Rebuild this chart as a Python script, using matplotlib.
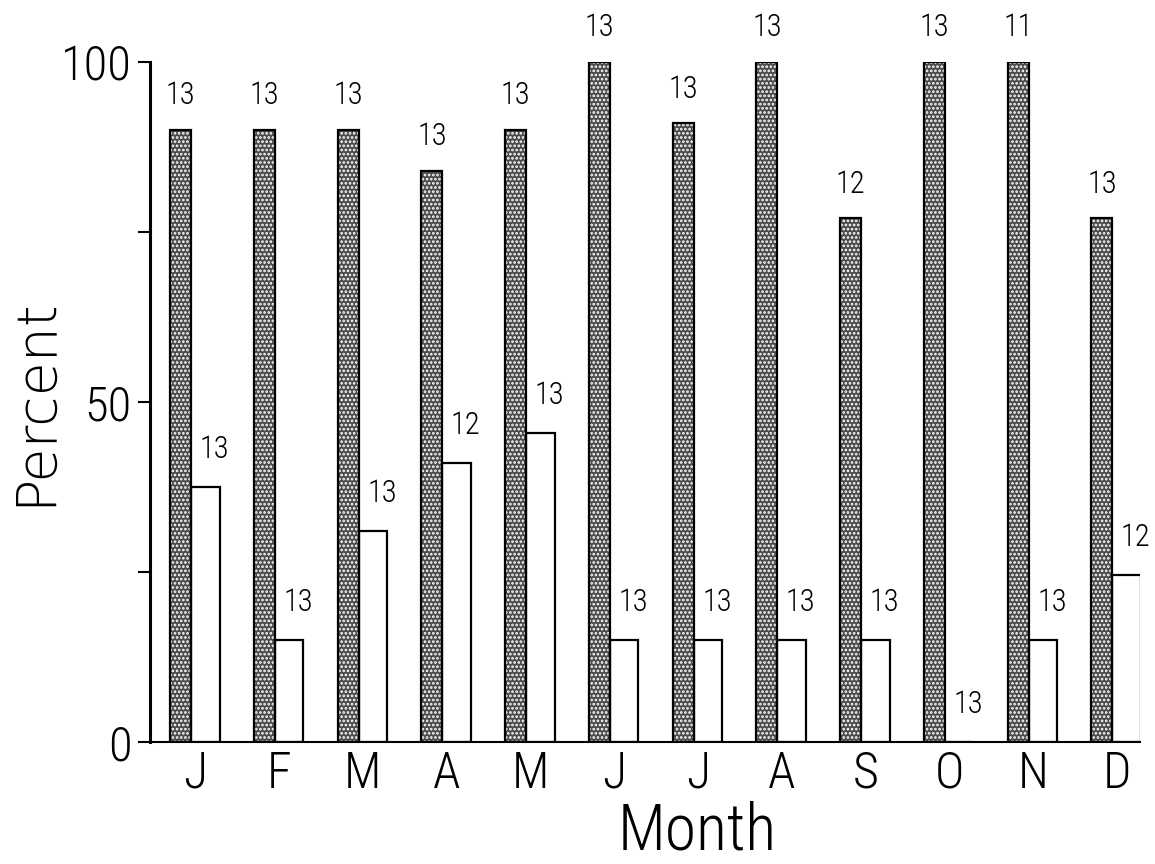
import numpy as np
import matplotlib
matplotlib.use('Agg')
import matplotlib.pyplot as plt
from matplotlib import font_manager

# Monthly percentages (stippled = first series, open = second series)
months = ['J', 'F', 'M', 'A', 'M', 'J', 'J', 'A', 'S', 'O', 'N', 'D']
pct_dark = [90, 90, 90, 84, 90, 100, 91, 100, 77, 100, 100, 77]
pct_open = [37.5, 15, 31, 41, 45.5, 15, 15, 15, 15, 0, 15, 24.5]
n_dark = [13, 13, 13, 13, 13, 13, 13, 13, 12, 13, 11, 13]
n_open = [13, 13, 13, 12, 13, 13, 13, 13, 13, 13, 13, 12]

# pick a narrow face if there is one
names = {f.name for f in font_manager.fontManager.ttflist}
narrow = 'DejaVu Sans'
for cand in ['Liberation Sans Narrow', 'Roboto Condensed', 'Open Sans Condensed']:
    if cand in names:
        narrow = cand
        break
tk = dict(family=narrow, stretch='condensed', weight='light')

plt.rcParams['hatch.linewidth'] = 1.3

fig = plt.figure(figsize=(11.55, 8.64), dpi=100)
ax = fig.add_axes([150/1155, 1 - 742/864, 990/1155, 680/864])

x = np.arange(len(months))
wd = 0.25   # stippled bar width
wo = 0.34   # open bar width

# stippled bars: dark fill with white dot hatch, then a black outline
ax.bar(x, pct_dark, width=wd, align='edge', color='#4a4a4a',
       edgecolor='white', hatch='....', linewidth=0, zorder=2)
ax.bar(x, pct_dark, width=wd, align='edge', fill=False,
       edgecolor='black', linewidth=1.6, zorder=3)

# open bars
ax.bar(x + wd, pct_open, width=wo, align='edge', color='white',
       edgecolor='black', linewidth=1.6, zorder=2)

# sample sizes above bars
for i in range(len(months)):
    ax.annotate(str(n_dark[i]), (x[i] + wd/2, pct_dark[i]),
                xytext=(0, 24.5), textcoords='offset points',
                ha='center', va='center', fontsize=22, annotation_clip=False, **tk)
    ax.annotate(str(n_open[i]), (x[i] + wd + wo/2, pct_open[i]),
                xytext=(6.5, 27), textcoords='offset points',
                ha='center', va='center', fontsize=22, annotation_clip=False, **tk)

ax.set_xlim(-0.24, 11.58)
ax.set_ylim(0, 100)

ax.spines['top'].set_visible(False)
ax.spines['right'].set_visible(False)
ax.spines['left'].set_linewidth(2.2)
ax.spines['bottom'].set_linewidth(1.5)

ax.set_yticks([0, 50, 100])
ax.set_yticks([25, 75], minor=True)
ax.set_yticklabels(['0', '50', '100'], fontsize=35, **tk)
ax.tick_params(axis='y', which='both', direction='out', length=9, width=1.5, pad=4)

ax.set_xticks(x + 0.3)
ax.set_xticklabels(months, fontsize=36, **tk)
ax.tick_params(axis='x', length=0, pad=6)

fig.text(35/1155, 1 - 402/864, 'Percent', rotation=90, ha='center', va='center',
         fontsize=40, family='DejaVu Sans', weight='light')
fig.text(697/1155, 1 - 832/864, 'Month', ha='center', va='center',
         fontsize=46, **tk)

fig.savefig('out.png', dpi=100)
